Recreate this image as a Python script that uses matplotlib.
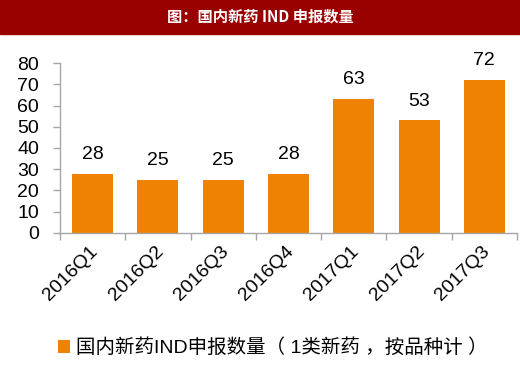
import matplotlib.pyplot as plt
import numpy as np

plt.rcParams['font.family'] = ['Liberation Sans', 'Noto Sans CJK SC', 'DejaVu Sans']

quarters = ["2016Q1", "2016Q2", "2016Q3", "2016Q4", "2017Q1", "2017Q2", "2017Q3"]
ind_counts = [28, 25, 25, 28, 63, 53, 72]
yticks = [0, 10, 20, 30, 40, 50, 60, 70, 80]

bar_color = "#EF8200"
axis_gray = "#A6A6A6"

fig = plt.figure(figsize=(5.2, 3.75), dpi=100)

# title banner
fig.patches.append(plt.Rectangle((0, 1 - 34 / 375), 1, 34 / 375,
                                 transform=fig.transFigure, color="#990000", zorder=0))
fig.text(0.5, 1 - 17 / 375, "图：国内新药 IND 申报数量", color="white",
         ha="center", va="center", fontsize=11, fontweight="bold",
         family=['Noto Sans CJK SC', 'DejaVu Sans'])

ax = fig.add_axes([60 / 520, 1 - 233 / 375, 457 / 520, 170 / 375])
x = np.arange(len(quarters))
ax.bar(x, ind_counts, width=0.63, color=bar_color,
       label="国内新药IND申报数量（ 1类新药 ，按品种计 ）")

for xi, v in zip(x, ind_counts):
    ax.text(xi, v + 5, str(v), ha="center", va="bottom", fontsize=14)

ax.set_xlim(-0.5, len(quarters) - 0.5)
ax.set_ylim(0, 80)
ax.set_yticks(yticks)
ax.tick_params(axis="y", labelsize=14, color=axis_gray, length=5, width=1, pad=10)

ax.set_xticks(np.arange(len(quarters) + 1) - 0.5)
ax.set_xticklabels([])
ax.set_xticks(x - 0.05, minor=True)
ax.set_xticklabels(quarters, minor=True, rotation=45, ha="right",
                   rotation_mode="anchor", fontsize=14)
ax.tick_params(axis="x", which="major", color=axis_gray, length=5, width=1)
ax.tick_params(axis="x", which="minor", length=0, pad=7)

for s in ["top", "right"]:
    ax.spines[s].set_visible(False)
for s in ["left", "bottom"]:
    ax.spines[s].set_color(axis_gray)
    ax.spines[s].set_linewidth(1)

fig.legend(loc="center", bbox_to_anchor=(0.525, 1 - 348 / 375), frameon=False,
           handlelength=0.6, handleheight=0.7, handletextpad=0.3,
           prop={'family': ['Liberation Sans', 'Noto Sans CJK SC'], 'size': 14})

fig.savefig("out.png", dpi=100)
